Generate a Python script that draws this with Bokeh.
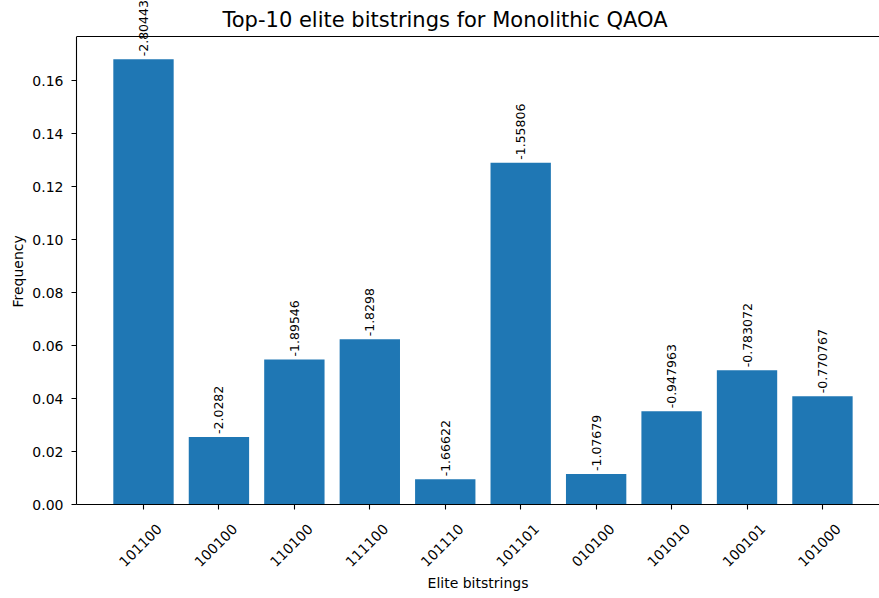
import math
from bokeh.plotting import figure
from bokeh.models import (ColumnDataSource, Range1d, FixedTicker, PrintfTickFormatter,
                          LinearAxis, Label, Span, Title)
from bokeh.embed import file_html
from bokeh.resources import INLINE

# ---- data ----
bitstrings = ["101100", "100100", "110100", "111100", "101110",
              "101101", "010100", "101010", "100101", "101000"]
frequencies = [0.1682, 0.0255, 0.0548, 0.0624, 0.0095,
               0.1291, 0.0115, 0.0352, 0.0507, 0.0409]
energies = [-2.80443, -2.0282, -1.89546, -1.8298, -1.66622,
            -1.55806, -1.07679, -0.947963, -0.783072, -0.770767]
y_ticks = [0.00, 0.02, 0.04, 0.06, 0.08, 0.10, 0.12, 0.14, 0.16]
title_text = "Top-10 elite bitstrings for Monolithic QAOA"
x_label = "Elite bitstrings"
y_label = "Frequency"

FONT = "DejaVu Sans"
BLUE = "#1f77b4"

idx = list(range(len(bitstrings)))
src = ColumnDataSource(dict(x=idx, top=frequencies))

W, H = 879, 598
BOTTOM = 94            # pixels below the frame
AX_TOP_PX = 36         # pixel row of the axes' top spine
Y_TOP = 0.1768         # y value of the top spine
FRAME_H = H - BOTTOM
Y_END = Y_TOP * FRAME_H / (FRAME_H - AX_TOP_PX)

X0, X1 = -0.888, 9.756
p = figure(width=W, height=H, output_backend="svg", toolbar_location=None,
           title=None,
           x_range=Range1d(X0, X1), y_range=Range1d(0, Y_END),
           min_border_left=76, min_border_right=0, min_border_top=0,
           min_border_bottom=BOTTOM, x_axis_location=None, y_axis_location=None)

p.grid.visible = False
p.outline_line_color = None
p.background_fill_color = "white"
p.border_fill_color = "white"

p.vbar(x="x", top="top", bottom=0, width=0.8, source=src,
       fill_color=BLUE, line_color=None)

# top spine
p.add_layout(Span(location=Y_TOP, dimension="width", line_color="black",
                  line_width=1.1))

# title
p.add_layout(Label(x=146, y=FRAME_H - 19.3, x_units="screen", y_units="screen",
                   text=title_text, text_font=FONT, text_font_size="21px",
                   text_color="black", text_align="left",
                   text_baseline="alphabetic"))

# bar value labels
for xi, fi, ei in zip(idx, frequencies, energies):
    p.add_layout(Label(x=xi, y=fi, text=f"{ei:g}", angle=90, angle_units="deg",
                       text_align="left", text_baseline="middle", y_offset=3,
                       text_font=FONT, text_font_size="12.5px",
                       text_color="black"))

# left axis
yaxis = LinearAxis(ticker=FixedTicker(ticks=y_ticks),
                   formatter=PrintfTickFormatter(format="%.2f"),
                   bounds=(0, Y_TOP))
yaxis.major_label_text_font = FONT
yaxis.major_label_text_font_size = "14px"
yaxis.major_label_text_color = "black"
yaxis.major_label_standoff = 8
yaxis.major_tick_out = 5
yaxis.major_tick_in = 0
yaxis.minor_tick_line_color = None
yaxis.axis_line_width = 1.1
yaxis.major_tick_line_width = 1.1
p.add_layout(yaxis, "left")

# y-axis label, centred on the axes (not on the taller frame)
ylab = Title(text=y_label, align="left", offset=197, standoff=7,
             text_font=FONT, text_font_size="14px", text_font_style="normal",
             text_color="black")
p.add_layout(ylab, "left")

# bottom axis: spine + ticks
xaxis = LinearAxis(ticker=FixedTicker(ticks=idx))
xaxis.major_label_overrides = {i: "" for i in idx}
xaxis.major_label_text_font_size = "0px"
xaxis.major_label_standoff = 0
xaxis.major_tick_out = 5
xaxis.major_tick_in = 0
xaxis.minor_tick_line_color = None
xaxis.axis_line_width = 1.1
xaxis.major_tick_line_width = 1.1
p.add_layout(xaxis, "below")

# bottom axis: rotated tick labels (range shifted so that labels centre on ticks)
shift = 0.21
p.extra_x_ranges = {"lab": Range1d(X0 - shift, X1 - shift)}
laxis = LinearAxis(x_range_name="lab", ticker=FixedTicker(ticks=idx))
laxis.major_label_overrides = {i: b for i, b in zip(idx, bitstrings)}
laxis.major_label_orientation = math.pi / 4
laxis.major_label_text_font = FONT
laxis.major_label_text_font_size = "14px"
laxis.major_label_text_color = "black"
laxis.major_label_standoff = 11
laxis.axis_line_color = None
laxis.major_tick_line_color = None
laxis.minor_tick_line_color = None
laxis.axis_label = x_label
laxis.axis_label_text_font = FONT
laxis.axis_label_text_font_size = "14px"
laxis.axis_label_text_font_style = "normal"
laxis.axis_label_text_color = "black"
laxis.axis_label_standoff = 1
p.add_layout(laxis, "below")

open("out.html", "w").write(file_html(p, INLINE))
